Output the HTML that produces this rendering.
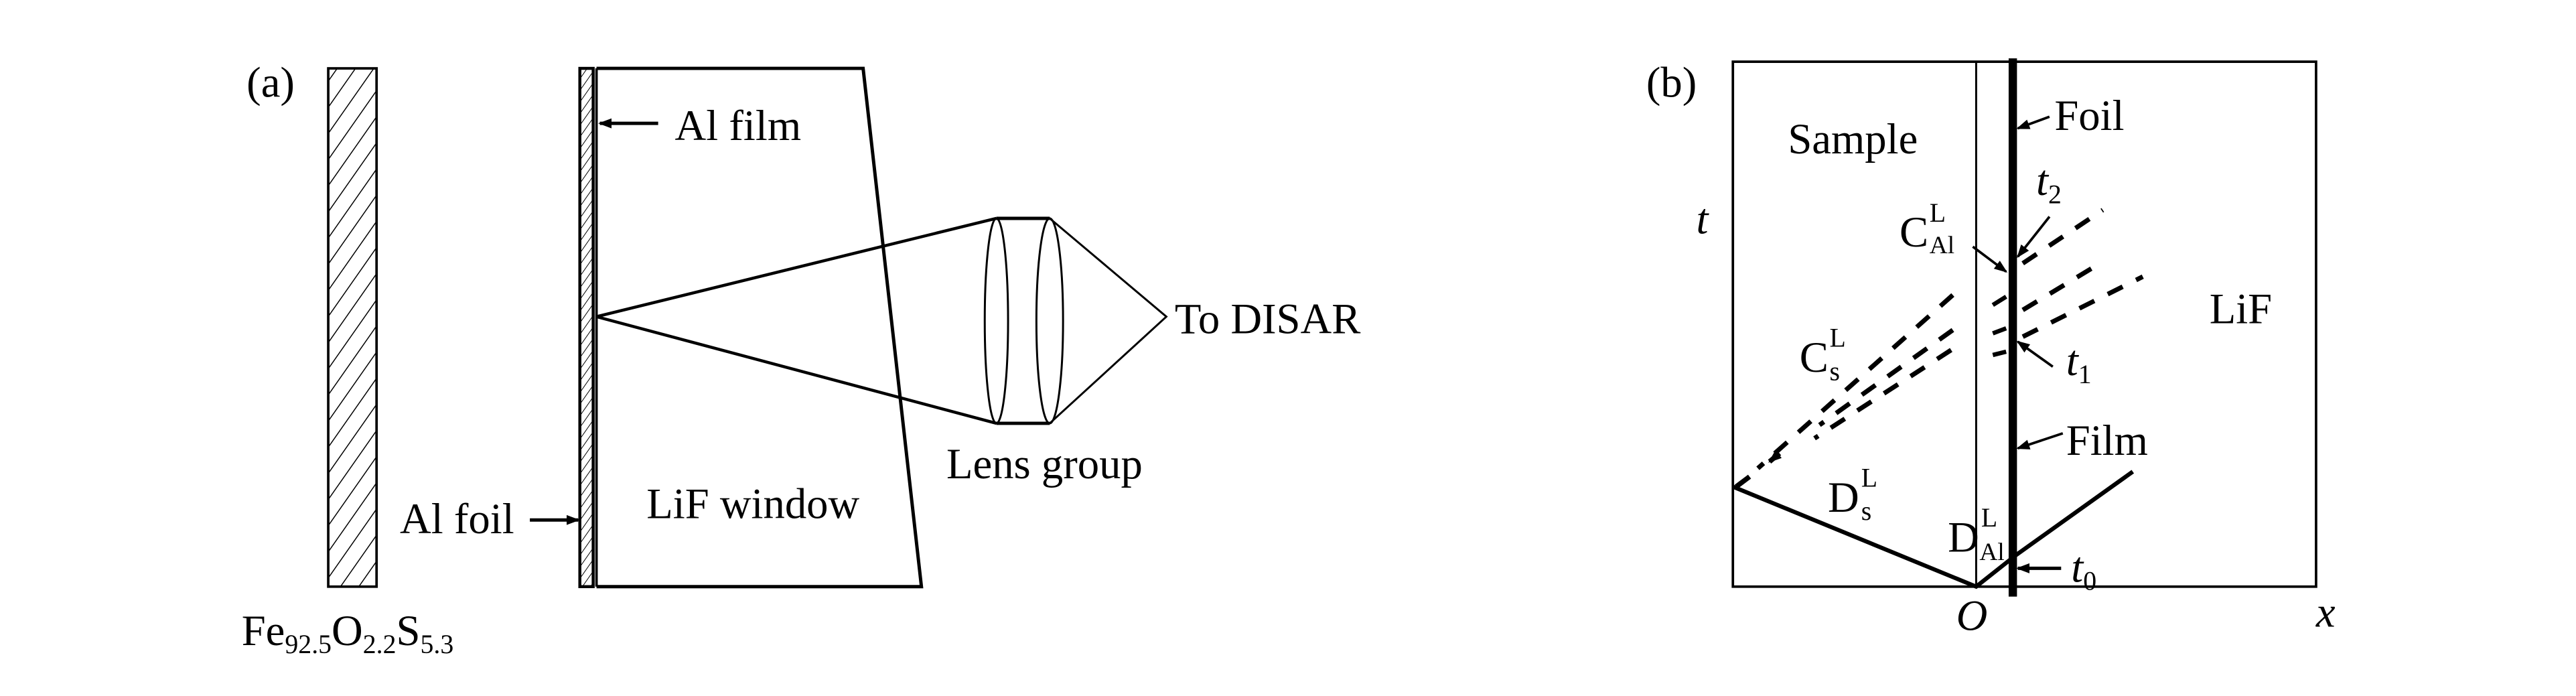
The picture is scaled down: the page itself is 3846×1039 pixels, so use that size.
<!DOCTYPE html>
<html><head><meta charset="utf-8"><style>
html,body{margin:0;padding:0;background:#fff;}
svg{display:block}
text{font-family:"Liberation Serif",serif;fill:#000}
</style></head><body>
<svg width="3846" height="1039" viewBox="0 0 1546 417.6" xmlns="http://www.w3.org/2000/svg">
<defs>
<pattern id="h" width="9" height="9" patternUnits="userSpaceOnUse" patternTransform="rotate(35)">
<line x1="0" y1="0" x2="0" y2="9" stroke="#000" stroke-width="1.2"/>
</pattern>
<pattern id="h2" width="4" height="6" patternUnits="userSpaceOnUse" patternTransform="rotate(35)">
<line x1="0" y1="0" x2="0" y2="6" stroke="#000" stroke-width="0.8"/>
</pattern>
<marker id="ar" markerWidth="8" markerHeight="8" refX="7" refY="4" orient="auto" markerUnits="userSpaceOnUse">
<path d="M0,1 L8,4 L0,7 Z" fill="#000"/>
</marker>
</defs>
<g stroke="#000" fill="none" stroke-width="1.5">
<rect x="197" y="41" width="29" height="311" fill="url(#h)"/>
<rect x="348" y="41" width="8" height="311" fill="url(#h2)" stroke-width="1.8"/>
<line x1="358" y1="41" x2="358" y2="352"/>
<polyline points="358,41 518,41 553,352 358,352" stroke-width="2"/>
<polyline points="598,131 358,190 598,254" stroke-width="1.8"/>
<ellipse cx="598" cy="192.5" rx="7" ry="61.5" stroke-width="1.2"/>
<ellipse cx="630" cy="192.5" rx="8" ry="61.5" stroke-width="1.2"/>
<line x1="598" y1="131" x2="630" y2="131" stroke-width="2"/>
<line x1="598" y1="254" x2="630" y2="254" stroke-width="2"/>
<polyline points="630,131 700,190 630,254" stroke-width="1.2"/>
<line x1="395" y1="74" x2="360" y2="74" stroke-width="2" marker-end="url(#ar)"/>
<line x1="318" y1="312" x2="347" y2="312" stroke-width="2" marker-end="url(#ar)"/>
<rect x="1040" y="37" width="350" height="315" stroke-width="1.5"/>
<line x1="1186" y1="37" x2="1186" y2="352" stroke-width="1.2"/>
<line x1="1208" y1="35" x2="1208" y2="358" stroke-width="5"/>
<polyline points="1040,292 1186,352 1210,333 1280,283" stroke-width="2.5"/>
<g stroke-width="2.8" stroke-dasharray="10,9">
<line x1="1172" y1="177" x2="1055" y2="281"/>
<line x1="1172" y1="198" x2="1092" y2="255"/>
<line x1="1171" y1="210" x2="1089" y2="263"/>
<line x1="1214" y1="158" x2="1262" y2="126"/>
<line x1="1214" y1="186" x2="1262" y2="157"/>
<line x1="1214" y1="202" x2="1286" y2="166"/>
</g>
<line x1="1068" y1="272" x2="1062" y2="277" stroke-width="3" marker-end="url(#ar)"/>
<line x1="1042" y1="292" x2="1050" y2="286" stroke-width="3"/>
<line x1="1196" y1="183" x2="1204" y2="178" stroke-width="2.6"/>
<line x1="1196" y1="200" x2="1204" y2="197" stroke-width="2.6"/>
<line x1="1196" y1="213" x2="1204" y2="211" stroke-width="2.6"/>
<line x1="1230" y1="70" x2="1211" y2="77" stroke-width="1.5" marker-end="url(#ar)"/>
<line x1="1184" y1="148" x2="1204" y2="163" stroke-width="1.5" marker-end="url(#ar)"/>
<line x1="1230" y1="130" x2="1211" y2="154" stroke-width="1.5" marker-end="url(#ar)"/>
<line x1="1232" y1="220" x2="1211" y2="205" stroke-width="1.5" marker-end="url(#ar)"/>
<line x1="1238" y1="260" x2="1211" y2="269" stroke-width="1.5" marker-end="url(#ar)"/>
<line x1="1237" y1="341" x2="1211" y2="341" stroke-width="2" marker-end="url(#ar)"/>
</g>
<g font-size="26">
<text x="148" y="58">(a)</text>
<text x="405" y="84">Al film</text>
<text x="705" y="200">To DISAR</text>
<text x="568" y="287">Lens group</text>
<text x="388" y="311">LiF window</text>
<text x="240" y="320">Al foil</text>
<text x="145" y="387">Fe<tspan font-size="16" dy="5">92.5</tspan><tspan dy="-5">O</tspan><tspan font-size="16" dy="5">2.2</tspan><tspan dy="-5">S</tspan><tspan font-size="16" dy="5">5.3</tspan></text>
<text x="988" y="58">(b)</text>
<text x="1073" y="92">Sample</text>
<text x="1233" y="78">Foil</text>
<text x="1326" y="194">LiF</text>
<text x="1240" y="273">Film</text>
<text x="1018" y="140" font-style="italic">t</text>
<text x="1390" y="376" font-style="italic">x</text>
<text x="1174" y="378" font-style="italic">O</text>
<text x="1222" y="117" font-style="italic">t<tspan font-style="normal" font-size="16" dy="5">2</tspan></text>
<text x="1240" y="225" font-style="italic">t<tspan font-style="normal" font-size="16" dy="5">1</tspan></text>
<text x="1243" y="349" font-style="italic">t<tspan font-style="normal" font-size="16" dy="5">0</tspan></text>
<text x="1140" y="148">C</text><text x="1158" y="133" font-size="16">L</text><text x="1158" y="152" font-size="15">Al</text>
<text x="1080" y="223">C</text><text x="1098" y="208" font-size="16">L</text><text x="1098" y="228" font-size="16">s</text>
<text x="1097" y="307">D</text><text x="1117" y="292" font-size="16">L</text><text x="1117" y="312" font-size="16">s</text>
<text x="1169" y="331">D</text><text x="1189" y="316" font-size="16">L</text><text x="1188" y="336" font-size="15">Al</text>
</g>
</svg>
</body></html>
